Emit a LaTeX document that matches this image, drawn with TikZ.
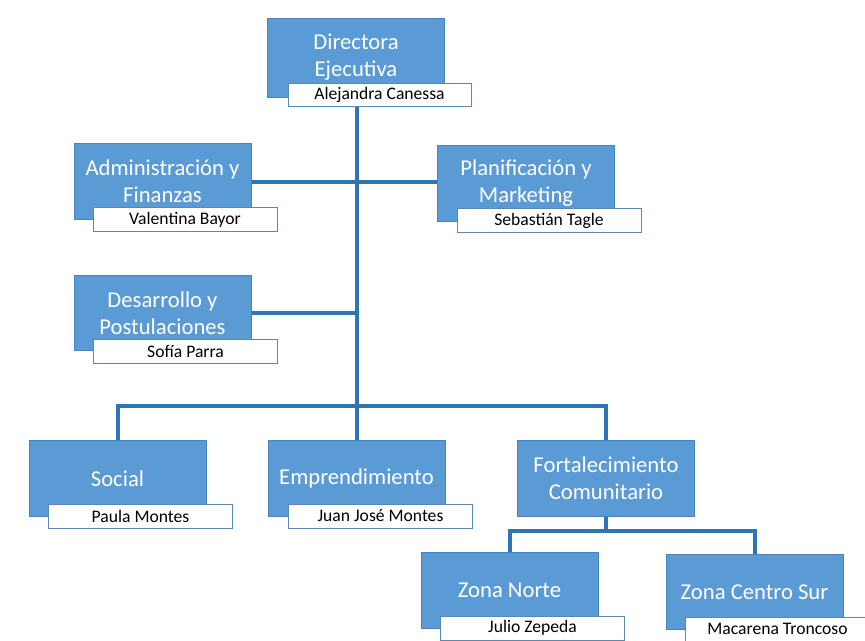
\documentclass[tikz,border=0pt]{standalone}
\usepackage{fontspec}
\setmainfont{Carlito}
\usetikzlibrary{backgrounds}
\definecolor{deptfill}{HTML}{5B9BD5}
\definecolor{deptborder}{HTML}{4A84BC}
\definecolor{connc}{HTML}{2E75B6}
\definecolor{nameborder}{HTML}{5B87B0}
\tikzset{
  dept/.style={draw=deptborder, fill=deptfill, text=white, align=center,
    font=\fontsize{17}{20.25}\selectfont, minimum width=132.75pt,
    minimum height=56.5pt, inner sep=0pt, line width=0.7pt},
  nm/.style={draw=nameborder, fill=white, text=black,
    font=\fontsize{13.2}{14}\selectfont, minimum width=138pt,
    minimum height=18pt, inner sep=0pt, line width=0.6pt},
  conn/.style={draw=connc, line width=3pt}
}
\begin{document}
\begin{tikzpicture}[x=0.75pt,y=-0.75pt]
\useasboundingbox (0,0) rectangle (865,640);
% top
\node[dept, minimum height=59.25pt] (dir) at (356,57.5) {Directora\\Ejecutiva};
\node[nm, minimum width=137.25pt, minimum height=17.25pt] (dirn) at (379.5,94.5) {Alejandra Canessa};
% second level
\node[dept] (adm) at (162.5,181.5) {Administración y\\Finanzas};
\node[nm] (admn) at (185,219.5) {Valentina Bayor};
\node[dept] (plan) at (526,183.5) {Planificación y\\Marketing};
\node[nm] (plann) at (549,220.5) {Sebastián Tagle};
\node[dept] (des) at (162.5,313) {Desarrollo y\\Postulaciones};
\node[nm] (desn) at (185.5,351) {Sofía Parra};
% third level
\node[dept] (soc) at (117.5,478.5) {Social};
\node[nm] (socn) at (140.5,516) {Paula Montes};
\node[dept] (emp) at (356.5,478.5) {Emprendimiento};
\node[nm] (empn) at (380.5,516) {Juan José Montes};
\node[dept] (fort) at (606,478.5) {Fortalecimiento\\Comunitario};
% fourth level
\node[dept] (zn) at (509.5,590.5) {Zona Norte};
\node[nm] (znn) at (532.5,628) {Julio Zepeda};
\node[dept] (zcs) at (754.5,592) {Zona Centro Sur};
\node[nm] (zcsn) at (777.5,629) {Macarena Troncoso};
\coordinate (bus) at (0,406);
\coordinate (bustwo) at (0,531);
\begin{pgfonlayer}{background}
\draw[conn] (emp.north |- dirn.south) -- (emp.north);
\draw[conn] (adm.east) -- (plan.west |- adm.east);
\draw[conn] (des.east) -- (des.east -| emp.north);
\draw[conn] (soc.north) -- (soc.north |- bus) -- (fort.north |- bus) -- (fort.north);
\draw[conn] (fort.south) -- (fort.south |- bustwo);
\draw[conn] (zn.north) -- (zn.north |- bustwo) -- (zcs.north |- bustwo) -- (zcs.north);
\end{pgfonlayer}
\end{tikzpicture}
\end{document}
